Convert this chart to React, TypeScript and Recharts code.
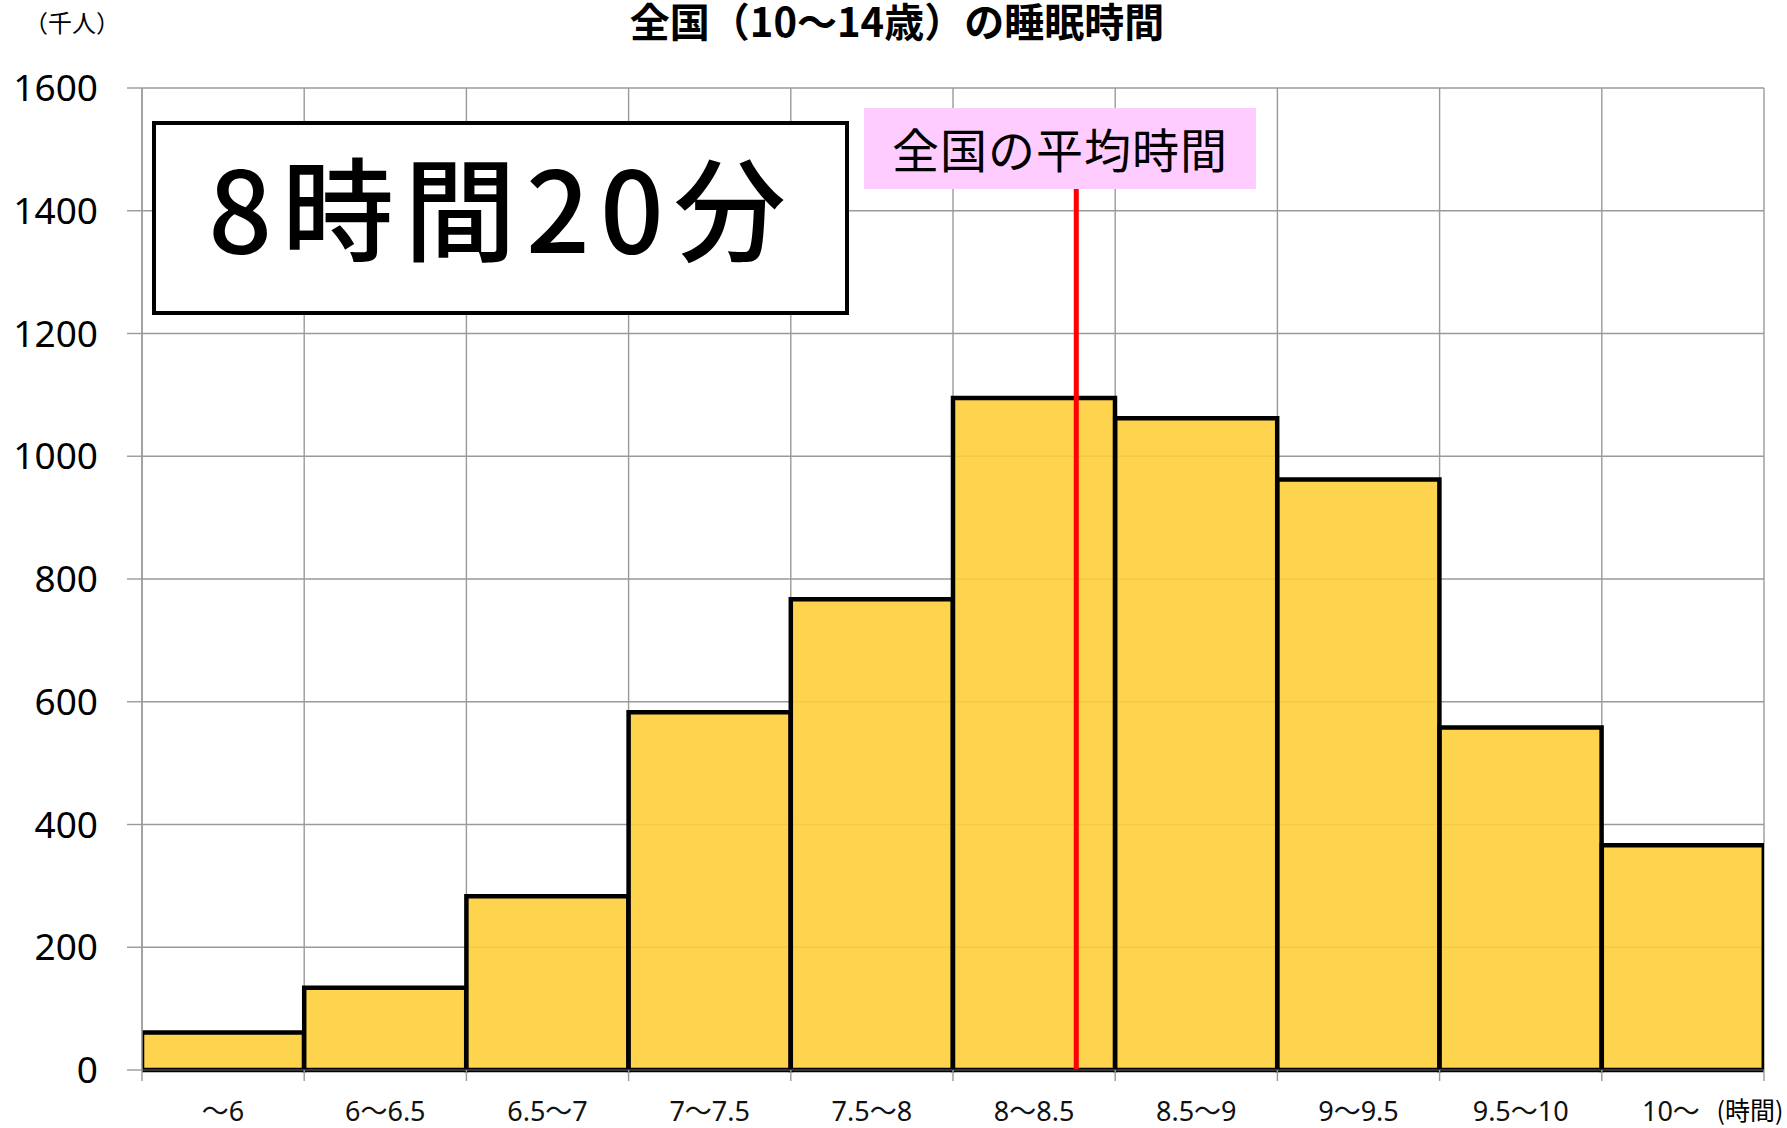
import { BarChart, Bar, XAxis, YAxis, CartesianGrid, ReferenceLine } from "recharts";

const categories = ["～6", "6～6.5", "6.5～7", "7～7.5", "7.5～8", "8～8.5", "8.5～9", "9～9.5", "9.5～10", "10～"];
const binCenters = [0.5, 1.5, 2.5, 3.5, 4.5, 5.5, 6.5, 7.5, 8.5, 9.5];
const counts = [61, 134, 283, 583, 767, 1095, 1062, 962, 558, 366];
const yTicks = [0, 200, 400, 600, 800, 1000, 1200, 1400, 1600];
const binEdges = [0, 1, 2, 3, 4, 5, 6, 7, 8, 9, 10];
const meanBin = 5.76; // where the national average (8h20m) line sits, in bin units
const meanLineTop = 1440;

const data = categories.map((name, i) => ({ name, mid: binCenters[i], count: counts[i] }));

const W = 1787;
const H = 1128;
const jp = "'Noto Sans CJK JP', 'Noto Sans', sans-serif";

// last label sits a little left to leave room for the (時間) unit
const CategoryTick = (props: any) => {
  const { x, y, payload, index } = props;
  const dx = index === categories.length - 1 ? -12 : 0;
  return (
    <text
      x={x + dx}
      y={y}
      dy="0.71em"
      textAnchor="middle"
      fontSize={27}
      fill="#111"
      fontFamily="'Noto Sans', 'Noto Sans CJK JP', sans-serif"
    >
      {payload.value}
    </text>
  );
};

export default function App() {
  return (
    <div style={{ position: "absolute", left: 0, top: 0, width: W, height: H, background: "#fff" }}>
      <BarChart
        width={W}
        height={H}
        data={data}
        margin={{ top: 88, right: 23, bottom: 0, left: 0 }}
        barCategoryGap={0}
        barGap={0}
      >
        <CartesianGrid xAxisId="a" stroke="#9a9a9a" strokeWidth={1.4} />
        <XAxis
          xAxisId="a"
          type="number"
          dataKey="mid"
          domain={[0, 10]}
          ticks={binEdges}
          allowDataOverflow
          height={1}
          tickFormatter={() => ""}
          tickSize={11}
          tickLine={{ stroke: "#9a9a9a", strokeWidth: 1.4 }}
          axisLine={{ stroke: "#333", strokeWidth: 2 }}
        />
        <XAxis
          xAxisId="b"
          type="category"
          dataKey="name"
          height={57}
          tickLine={false}
          axisLine={false}
          tickSize={0}
          tickMargin={31}
          interval={0}
          tick={<CategoryTick />}
        />
        <YAxis
          domain={[0, 1600]}
          ticks={yTicks}
          interval={0}
          width={142}
          tickSize={15}
          tickMargin={29}
          tickLine={{ stroke: "#9a9a9a", strokeWidth: 1.4 }}
          axisLine={{ stroke: "#9a9a9a", strokeWidth: 1.4 }}
          tick={{ fontSize: 37, fill: "#000", fontFamily: "'Noto Sans', sans-serif" }}
        />
        <Bar
          xAxisId="a"
          dataKey="count"
          fill="#FECE3B"
          fillOpacity={0.9}
          stroke="#000"
          strokeWidth={4.5}
          isAnimationActive={false}
        />
        <ReferenceLine
          xAxisId="a"
          segment={[
            { x: meanBin, y: 0 },
            { x: meanBin, y: meanLineTop },
          ]}
          stroke="#ff0000"
          strokeWidth={5}
          ifOverflow="visible"
        />
      </BarChart>
      <svg
        width={W}
        height={H}
        style={{ position: "absolute", left: 0, top: 0, pointerEvents: "none" }}
      >
        <text x={897} y={37} textAnchor="middle" fontSize={40} fontWeight={700} fontFamily={jp} fill="#000">
          全国（10～14歳）の睡眠時間
        </text>
        <text x={72} y={32} textAnchor="middle" fontSize={24} fontFamily={jp} fill="#000">
          （千人）
        </text>
        <rect x={154} y={123} width={693} height={190} fill="#fff" stroke="#000" strokeWidth={4} />
        <text x={502} y={253} textAnchor="middle" fontSize={112} fontWeight={500} letterSpacing={10} fontFamily={jp} fill="#000">
          8時間20分
        </text>
        <rect x={864} y={108} width={392} height={81} fill="#FFCCFF" />
        <text x={1060} y={168} textAnchor="middle" fontSize={47} letterSpacing={1} fontFamily={jp} fill="#000">
          全国の平均時間
        </text>
        <text x={1750} y={1120} textAnchor="middle" fontSize={25} fontFamily={jp} fill="#000">
          (時間)
        </text>
      </svg>
    </div>
  );
}
